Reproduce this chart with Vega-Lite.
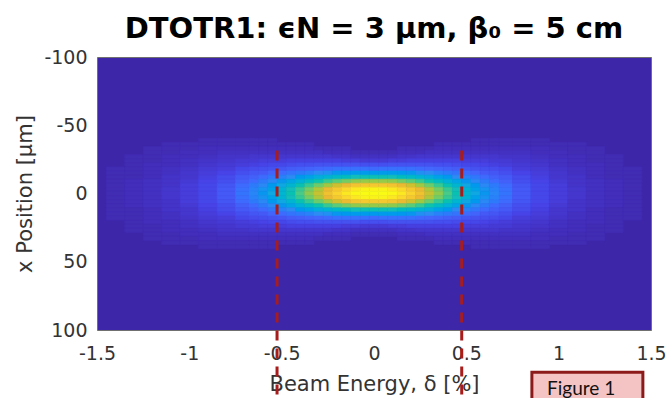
{
  "$schema": "https://vega.github.io/schema/vega-lite/v6.json",
  "width": 554,
  "height": 273,
  "autosize": {"type": "none"},
  "padding": {"left": 97, "top": 57, "right": 18, "bottom": 68},
  "background": "white",
  "title": {
    "text": "DTOTR1: ϵN = 3 μm, β₀ = 5 cm",
    "font": "DejaVu Sans",
    "fontSize": 29,
    "fontWeight": "bold",
    "color": "#000000",
    "anchor": "middle",
    "offset": 4
  },
  "layer": [
    {
      "data": {"values": [
        {"x":-1.4,"y":-18,"v":0.02},{"x":-1.4,"y":-15,"v":0.02},{"x":-1.4,"y":-12,"v":0.02},{"x":-1.4,"y":-9,"v":0.02},{"x":-1.4,"y":-6,"v":0.02},{"x":-1.4,"y":-3,"v":0.02},{"x":-1.4,"y":0,"v":0.02},{"x":-1.4,"y":3,"v":0.02},{"x":-1.4,"y":6,"v":0.02},{"x":-1.4,"y":9,"v":0.02},{"x":-1.4,"y":12,"v":0.02},{"x":-1.4,"y":15,"v":0.02},{"x":-1.4,"y":18,"v":0.02},
        {"x":-1.3,"y":-27,"v":0.02},{"x":-1.3,"y":-24,"v":0.02},{"x":-1.3,"y":-21,"v":0.02},{"x":-1.3,"y":-18,"v":0.02},{"x":-1.3,"y":-15,"v":0.02},{"x":-1.3,"y":-12,"v":0.02},{"x":-1.3,"y":-9,"v":0.03},{"x":-1.3,"y":-6,"v":0.03},{"x":-1.3,"y":-3,"v":0.03},{"x":-1.3,"y":0,"v":0.03},{"x":-1.3,"y":3,"v":0.03},{"x":-1.3,"y":6,"v":0.03},{"x":-1.3,"y":9,"v":0.03},{"x":-1.3,"y":12,"v":0.02},{"x":-1.3,"y":15,"v":0.02},{"x":-1.3,"y":18,"v":0.02},{"x":-1.3,"y":21,"v":0.02},{"x":-1.3,"y":24,"v":0.02},{"x":-1.3,"y":27,"v":0.02},
        {"x":-1.2,"y":-33,"v":0.02},{"x":-1.2,"y":-30,"v":0.02},{"x":-1.2,"y":-27,"v":0.02},{"x":-1.2,"y":-24,"v":0.02},{"x":-1.2,"y":-21,"v":0.03},{"x":-1.2,"y":-18,"v":0.03},{"x":-1.2,"y":-15,"v":0.03},{"x":-1.2,"y":-12,"v":0.03},{"x":-1.2,"y":-9,"v":0.04},{"x":-1.2,"y":-6,"v":0.04},{"x":-1.2,"y":-3,"v":0.04},{"x":-1.2,"y":0,"v":0.04},{"x":-1.2,"y":3,"v":0.04},{"x":-1.2,"y":6,"v":0.04},{"x":-1.2,"y":9,"v":0.04},{"x":-1.2,"y":12,"v":0.03},{"x":-1.2,"y":15,"v":0.03},{"x":-1.2,"y":18,"v":0.03},{"x":-1.2,"y":21,"v":0.03},{"x":-1.2,"y":24,"v":0.02},{"x":-1.2,"y":27,"v":0.02},{"x":-1.2,"y":30,"v":0.02},{"x":-1.2,"y":33,"v":0.02},
        {"x":-1.1,"y":-36,"v":0.02},{"x":-1.1,"y":-33,"v":0.02},{"x":-1.1,"y":-30,"v":0.02},{"x":-1.1,"y":-27,"v":0.03},{"x":-1.1,"y":-24,"v":0.03},{"x":-1.1,"y":-21,"v":0.03},{"x":-1.1,"y":-18,"v":0.04},{"x":-1.1,"y":-15,"v":0.04},{"x":-1.1,"y":-12,"v":0.05},{"x":-1.1,"y":-9,"v":0.05},{"x":-1.1,"y":-6,"v":0.05},{"x":-1.1,"y":-3,"v":0.06},{"x":-1.1,"y":0,"v":0.06},{"x":-1.1,"y":3,"v":0.06},{"x":-1.1,"y":6,"v":0.05},{"x":-1.1,"y":9,"v":0.05},{"x":-1.1,"y":12,"v":0.05},{"x":-1.1,"y":15,"v":0.04},{"x":-1.1,"y":18,"v":0.04},{"x":-1.1,"y":21,"v":0.03},{"x":-1.1,"y":24,"v":0.03},{"x":-1.1,"y":27,"v":0.03},{"x":-1.1,"y":30,"v":0.02},{"x":-1.1,"y":33,"v":0.02},{"x":-1.1,"y":36,"v":0.02},
        {"x":-1.0,"y":-36,"v":0.02},{"x":-1.0,"y":-33,"v":0.02},{"x":-1.0,"y":-30,"v":0.03},{"x":-1.0,"y":-27,"v":0.03},{"x":-1.0,"y":-24,"v":0.04},{"x":-1.0,"y":-21,"v":0.04},{"x":-1.0,"y":-18,"v":0.05},{"x":-1.0,"y":-15,"v":0.06},{"x":-1.0,"y":-12,"v":0.06},{"x":-1.0,"y":-9,"v":0.07},{"x":-1.0,"y":-6,"v":0.08},{"x":-1.0,"y":-3,"v":0.08},{"x":-1.0,"y":0,"v":0.08},{"x":-1.0,"y":3,"v":0.08},{"x":-1.0,"y":6,"v":0.08},{"x":-1.0,"y":9,"v":0.07},{"x":-1.0,"y":12,"v":0.06},{"x":-1.0,"y":15,"v":0.06},{"x":-1.0,"y":18,"v":0.05},{"x":-1.0,"y":21,"v":0.04},{"x":-1.0,"y":24,"v":0.04},{"x":-1.0,"y":27,"v":0.03},{"x":-1.0,"y":30,"v":0.03},{"x":-1.0,"y":33,"v":0.02},{"x":-1.0,"y":36,"v":0.02},
        {"x":-0.9,"y":-39,"v":0.02},{"x":-0.9,"y":-36,"v":0.02},{"x":-0.9,"y":-33,"v":0.03},{"x":-0.9,"y":-30,"v":0.03},{"x":-0.9,"y":-27,"v":0.04},{"x":-0.9,"y":-24,"v":0.05},{"x":-0.9,"y":-21,"v":0.06},{"x":-0.9,"y":-18,"v":0.07},{"x":-0.9,"y":-15,"v":0.08},{"x":-0.9,"y":-12,"v":0.09},{"x":-0.9,"y":-9,"v":0.10},{"x":-0.9,"y":-6,"v":0.11},{"x":-0.9,"y":-3,"v":0.11},{"x":-0.9,"y":0,"v":0.11},{"x":-0.9,"y":3,"v":0.11},{"x":-0.9,"y":6,"v":0.11},{"x":-0.9,"y":9,"v":0.10},{"x":-0.9,"y":12,"v":0.09},{"x":-0.9,"y":15,"v":0.08},{"x":-0.9,"y":18,"v":0.07},{"x":-0.9,"y":21,"v":0.06},{"x":-0.9,"y":24,"v":0.05},{"x":-0.9,"y":27,"v":0.04},{"x":-0.9,"y":30,"v":0.03},{"x":-0.9,"y":33,"v":0.03},{"x":-0.9,"y":36,"v":0.02},{"x":-0.9,"y":39,"v":0.02},
        {"x":-0.8,"y":-39,"v":0.02},{"x":-0.8,"y":-36,"v":0.02},{"x":-0.8,"y":-33,"v":0.03},{"x":-0.8,"y":-30,"v":0.04},{"x":-0.8,"y":-27,"v":0.05},{"x":-0.8,"y":-24,"v":0.06},{"x":-0.8,"y":-21,"v":0.07},{"x":-0.8,"y":-18,"v":0.08},{"x":-0.8,"y":-15,"v":0.10},{"x":-0.8,"y":-12,"v":0.12},{"x":-0.8,"y":-9,"v":0.13},{"x":-0.8,"y":-6,"v":0.15},{"x":-0.8,"y":-3,"v":0.16},{"x":-0.8,"y":0,"v":0.16},{"x":-0.8,"y":3,"v":0.16},{"x":-0.8,"y":6,"v":0.15},{"x":-0.8,"y":9,"v":0.13},{"x":-0.8,"y":12,"v":0.12},{"x":-0.8,"y":15,"v":0.10},{"x":-0.8,"y":18,"v":0.08},{"x":-0.8,"y":21,"v":0.07},{"x":-0.8,"y":24,"v":0.06},{"x":-0.8,"y":27,"v":0.05},{"x":-0.8,"y":30,"v":0.04},{"x":-0.8,"y":33,"v":0.03},{"x":-0.8,"y":36,"v":0.02},{"x":-0.8,"y":39,"v":0.02},
        {"x":-0.7,"y":-39,"v":0.02},{"x":-0.7,"y":-36,"v":0.02},{"x":-0.7,"y":-33,"v":0.03},{"x":-0.7,"y":-30,"v":0.04},{"x":-0.7,"y":-27,"v":0.05},{"x":-0.7,"y":-24,"v":0.07},{"x":-0.7,"y":-21,"v":0.08},{"x":-0.7,"y":-18,"v":0.11},{"x":-0.7,"y":-15,"v":0.13},{"x":-0.7,"y":-12,"v":0.16},{"x":-0.7,"y":-9,"v":0.18},{"x":-0.7,"y":-6,"v":0.21},{"x":-0.7,"y":-3,"v":0.22},{"x":-0.7,"y":0,"v":0.23},{"x":-0.7,"y":3,"v":0.22},{"x":-0.7,"y":6,"v":0.21},{"x":-0.7,"y":9,"v":0.18},{"x":-0.7,"y":12,"v":0.16},{"x":-0.7,"y":15,"v":0.13},{"x":-0.7,"y":18,"v":0.11},{"x":-0.7,"y":21,"v":0.08},{"x":-0.7,"y":24,"v":0.07},{"x":-0.7,"y":27,"v":0.05},{"x":-0.7,"y":30,"v":0.04},{"x":-0.7,"y":33,"v":0.03},{"x":-0.7,"y":36,"v":0.02},{"x":-0.7,"y":39,"v":0.02},
        {"x":0.7,"y":-39,"v":0.02},{"x":0.7,"y":-36,"v":0.02},{"x":0.7,"y":-33,"v":0.03},{"x":0.7,"y":-30,"v":0.04},{"x":0.7,"y":-27,"v":0.05},{"x":0.7,"y":-24,"v":0.07},{"x":0.7,"y":-21,"v":0.08},{"x":0.7,"y":-18,"v":0.11},{"x":0.7,"y":-15,"v":0.13},{"x":0.7,"y":-12,"v":0.16},{"x":0.7,"y":-9,"v":0.18},{"x":0.7,"y":-6,"v":0.21},{"x":0.7,"y":-3,"v":0.22},{"x":0.7,"y":0,"v":0.23},{"x":0.7,"y":3,"v":0.22},{"x":0.7,"y":6,"v":0.21},{"x":0.7,"y":9,"v":0.18},{"x":0.7,"y":12,"v":0.16},{"x":0.7,"y":15,"v":0.13},{"x":0.7,"y":18,"v":0.11},{"x":0.7,"y":21,"v":0.08},{"x":0.7,"y":24,"v":0.07},{"x":0.7,"y":27,"v":0.05},{"x":0.7,"y":30,"v":0.04},{"x":0.7,"y":33,"v":0.03},{"x":0.7,"y":36,"v":0.02},{"x":0.7,"y":39,"v":0.02},
        {"x":0.8,"y":-39,"v":0.02},{"x":0.8,"y":-36,"v":0.02},{"x":0.8,"y":-33,"v":0.03},{"x":0.8,"y":-30,"v":0.04},{"x":0.8,"y":-27,"v":0.05},{"x":0.8,"y":-24,"v":0.06},{"x":0.8,"y":-21,"v":0.07},{"x":0.8,"y":-18,"v":0.08},{"x":0.8,"y":-15,"v":0.10},{"x":0.8,"y":-12,"v":0.12},{"x":0.8,"y":-9,"v":0.13},{"x":0.8,"y":-6,"v":0.15},{"x":0.8,"y":-3,"v":0.16},{"x":0.8,"y":0,"v":0.16},{"x":0.8,"y":3,"v":0.16},{"x":0.8,"y":6,"v":0.15},{"x":0.8,"y":9,"v":0.13},{"x":0.8,"y":12,"v":0.12},{"x":0.8,"y":15,"v":0.10},{"x":0.8,"y":18,"v":0.08},{"x":0.8,"y":21,"v":0.07},{"x":0.8,"y":24,"v":0.06},{"x":0.8,"y":27,"v":0.05},{"x":0.8,"y":30,"v":0.04},{"x":0.8,"y":33,"v":0.03},{"x":0.8,"y":36,"v":0.02},{"x":0.8,"y":39,"v":0.02},
        {"x":0.9,"y":-39,"v":0.02},{"x":0.9,"y":-36,"v":0.02},{"x":0.9,"y":-33,"v":0.03},{"x":0.9,"y":-30,"v":0.03},{"x":0.9,"y":-27,"v":0.04},{"x":0.9,"y":-24,"v":0.05},{"x":0.9,"y":-21,"v":0.06},{"x":0.9,"y":-18,"v":0.07},{"x":0.9,"y":-15,"v":0.08},{"x":0.9,"y":-12,"v":0.09},{"x":0.9,"y":-9,"v":0.10},{"x":0.9,"y":-6,"v":0.11},{"x":0.9,"y":-3,"v":0.11},{"x":0.9,"y":0,"v":0.11},{"x":0.9,"y":3,"v":0.11},{"x":0.9,"y":6,"v":0.11},{"x":0.9,"y":9,"v":0.10},{"x":0.9,"y":12,"v":0.09},{"x":0.9,"y":15,"v":0.08},{"x":0.9,"y":18,"v":0.07},{"x":0.9,"y":21,"v":0.06},{"x":0.9,"y":24,"v":0.05},{"x":0.9,"y":27,"v":0.04},{"x":0.9,"y":30,"v":0.03},{"x":0.9,"y":33,"v":0.03},{"x":0.9,"y":36,"v":0.02},{"x":0.9,"y":39,"v":0.02},
        {"x":1.0,"y":-36,"v":0.02},{"x":1.0,"y":-33,"v":0.02},{"x":1.0,"y":-30,"v":0.03},{"x":1.0,"y":-27,"v":0.03},{"x":1.0,"y":-24,"v":0.04},{"x":1.0,"y":-21,"v":0.04},{"x":1.0,"y":-18,"v":0.05},{"x":1.0,"y":-15,"v":0.06},{"x":1.0,"y":-12,"v":0.06},{"x":1.0,"y":-9,"v":0.07},{"x":1.0,"y":-6,"v":0.08},{"x":1.0,"y":-3,"v":0.08},{"x":1.0,"y":0,"v":0.08},{"x":1.0,"y":3,"v":0.08},{"x":1.0,"y":6,"v":0.08},{"x":1.0,"y":9,"v":0.07},{"x":1.0,"y":12,"v":0.06},{"x":1.0,"y":15,"v":0.06},{"x":1.0,"y":18,"v":0.05},{"x":1.0,"y":21,"v":0.04},{"x":1.0,"y":24,"v":0.04},{"x":1.0,"y":27,"v":0.03},{"x":1.0,"y":30,"v":0.03},{"x":1.0,"y":33,"v":0.02},{"x":1.0,"y":36,"v":0.02},
        {"x":1.1,"y":-36,"v":0.02},{"x":1.1,"y":-33,"v":0.02},{"x":1.1,"y":-30,"v":0.02},{"x":1.1,"y":-27,"v":0.03},{"x":1.1,"y":-24,"v":0.03},{"x":1.1,"y":-21,"v":0.03},{"x":1.1,"y":-18,"v":0.04},{"x":1.1,"y":-15,"v":0.04},{"x":1.1,"y":-12,"v":0.05},{"x":1.1,"y":-9,"v":0.05},{"x":1.1,"y":-6,"v":0.05},{"x":1.1,"y":-3,"v":0.06},{"x":1.1,"y":0,"v":0.06},{"x":1.1,"y":3,"v":0.06},{"x":1.1,"y":6,"v":0.05},{"x":1.1,"y":9,"v":0.05},{"x":1.1,"y":12,"v":0.05},{"x":1.1,"y":15,"v":0.04},{"x":1.1,"y":18,"v":0.04},{"x":1.1,"y":21,"v":0.03},{"x":1.1,"y":24,"v":0.03},{"x":1.1,"y":27,"v":0.03},{"x":1.1,"y":30,"v":0.02},{"x":1.1,"y":33,"v":0.02},{"x":1.1,"y":36,"v":0.02},
        {"x":1.2,"y":-33,"v":0.02},{"x":1.2,"y":-30,"v":0.02},{"x":1.2,"y":-27,"v":0.02},{"x":1.2,"y":-24,"v":0.02},{"x":1.2,"y":-21,"v":0.03},{"x":1.2,"y":-18,"v":0.03},{"x":1.2,"y":-15,"v":0.03},{"x":1.2,"y":-12,"v":0.03},{"x":1.2,"y":-9,"v":0.04},{"x":1.2,"y":-6,"v":0.04},{"x":1.2,"y":-3,"v":0.04},{"x":1.2,"y":0,"v":0.04},{"x":1.2,"y":3,"v":0.04},{"x":1.2,"y":6,"v":0.04},{"x":1.2,"y":9,"v":0.04},{"x":1.2,"y":12,"v":0.03},{"x":1.2,"y":15,"v":0.03},{"x":1.2,"y":18,"v":0.03},{"x":1.2,"y":21,"v":0.03},{"x":1.2,"y":24,"v":0.02},{"x":1.2,"y":27,"v":0.02},{"x":1.2,"y":30,"v":0.02},{"x":1.2,"y":33,"v":0.02},
        {"x":1.3,"y":-27,"v":0.02},{"x":1.3,"y":-24,"v":0.02},{"x":1.3,"y":-21,"v":0.02},{"x":1.3,"y":-18,"v":0.02},{"x":1.3,"y":-15,"v":0.02},{"x":1.3,"y":-12,"v":0.02},{"x":1.3,"y":-9,"v":0.03},{"x":1.3,"y":-6,"v":0.03},{"x":1.3,"y":-3,"v":0.03},{"x":1.3,"y":0,"v":0.03},{"x":1.3,"y":3,"v":0.03},{"x":1.3,"y":6,"v":0.03},{"x":1.3,"y":9,"v":0.03},{"x":1.3,"y":12,"v":0.02},{"x":1.3,"y":15,"v":0.02},{"x":1.3,"y":18,"v":0.02},{"x":1.3,"y":21,"v":0.02},{"x":1.3,"y":24,"v":0.02},{"x":1.3,"y":27,"v":0.02},
        {"x":1.4,"y":-18,"v":0.02},{"x":1.4,"y":-15,"v":0.02},{"x":1.4,"y":-12,"v":0.02},{"x":1.4,"y":-9,"v":0.02},{"x":1.4,"y":-6,"v":0.02},{"x":1.4,"y":-3,"v":0.02},{"x":1.4,"y":0,"v":0.02},{"x":1.4,"y":3,"v":0.02},{"x":1.4,"y":6,"v":0.02},{"x":1.4,"y":9,"v":0.02},{"x":1.4,"y":12,"v":0.02},{"x":1.4,"y":15,"v":0.02},{"x":1.4,"y":18,"v":0.02}
      ]},
      "transform": [
        {"bin": {"step": 0.1, "extent": [-1.45, 1.45], "nice": false}, "field": "x", "as": ["x0", "x1"]},
        {"bin": {"step": 3, "extent": [-40.5, 40.5], "nice": false}, "field": "y", "as": ["y0", "y1"]}
      ],
      "mark": {"type": "rect", "strokeWidth": 0.6},
      "encoding": {
        "x": {
          "field": "x0", "type": "quantitative",
          "scale": {"domain": [-1.5, 1.5], "nice": false, "zero": false},
          "axis": {"values": [-1.5, -1, -0.5, 0, 0.5, 1, 1.5], "format": "~g", "title": "Beam Energy, δ [%]", "labelPadding": 14, "titlePadding": 10, "labelFlush": false, "labelOverlap": false}
        },
        "x2": {"field": "x1"},
        "y": {
          "field": "y0", "type": "quantitative",
          "scale": {"domain": [-100, 100], "reverse": true, "nice": false, "zero": false},
          "axis": {"values": [-100, -50, 0, 50, 100], "format": "d", "title": "x Position [μm]", "labelPadding": 10, "titlePadding": 8, "labelFlush": false, "labelOverlap": false}
        },
        "y2": {"field": "y1"},
        "color": {"field": "v", "type": "quantitative", "scale": {"domain": [0, 0.1, 0.2, 0.3, 0.4, 0.5, 0.6, 0.7, 0.8, 0.9, 1], "range": ["#3e26a8", "#4743e7", "#4367fd", "#2d8cf3", "#1caadf", "#12beb9", "#48cb86", "#9fc942", "#eaba31", "#fad42e", "#f9fb15"], "clamp": true}, "legend": null},
        "stroke": {"field": "v", "type": "quantitative", "scale": {"domain": [0, 0.1, 0.2, 0.3, 0.4, 0.5, 0.6, 0.7, 0.8, 0.9, 1], "range": ["#3e26a8", "#4743e7", "#4367fd", "#2d8cf3", "#1caadf", "#12beb9", "#48cb86", "#9fc942", "#eaba31", "#fad42e", "#f9fb15"], "clamp": true}, "legend": null}
      }
    },
    {
      "data": {"values": [
        {"x":-0.65,"y":-39,"v":0.02},{"x":-0.65,"y":-36,"v":0.02},{"x":-0.65,"y":-33,"v":0.03},{"x":-0.65,"y":-30,"v":0.04},{"x":-0.65,"y":-27,"v":0.06},{"x":-0.65,"y":-24,"v":0.07},{"x":-0.65,"y":-21,"v":0.09},{"x":-0.65,"y":-18,"v":0.12},{"x":-0.65,"y":-15,"v":0.15},{"x":-0.65,"y":-12,"v":0.18},{"x":-0.65,"y":-9,"v":0.21},{"x":-0.65,"y":-6,"v":0.25},{"x":-0.65,"y":-3,"v":0.27},{"x":-0.65,"y":0,"v":0.28},{"x":-0.65,"y":3,"v":0.27},{"x":-0.65,"y":6,"v":0.25},{"x":-0.65,"y":9,"v":0.21},{"x":-0.65,"y":12,"v":0.18},{"x":-0.65,"y":15,"v":0.15},{"x":-0.65,"y":18,"v":0.12},{"x":-0.65,"y":21,"v":0.09},{"x":-0.65,"y":24,"v":0.07},{"x":-0.65,"y":27,"v":0.06},{"x":-0.65,"y":30,"v":0.04},{"x":-0.65,"y":33,"v":0.03},{"x":-0.65,"y":36,"v":0.02},{"x":-0.65,"y":39,"v":0.02},
        {"x":-0.6,"y":-39,"v":0.02},{"x":-0.6,"y":-36,"v":0.02},{"x":-0.6,"y":-33,"v":0.03},{"x":-0.6,"y":-30,"v":0.04},{"x":-0.6,"y":-27,"v":0.06},{"x":-0.6,"y":-24,"v":0.08},{"x":-0.6,"y":-21,"v":0.10},{"x":-0.6,"y":-18,"v":0.13},{"x":-0.6,"y":-15,"v":0.16},{"x":-0.6,"y":-12,"v":0.21},{"x":-0.6,"y":-9,"v":0.25},{"x":-0.6,"y":-6,"v":0.29},{"x":-0.6,"y":-3,"v":0.32},{"x":-0.6,"y":0,"v":0.33},{"x":-0.6,"y":3,"v":0.32},{"x":-0.6,"y":6,"v":0.29},{"x":-0.6,"y":9,"v":0.25},{"x":-0.6,"y":12,"v":0.21},{"x":-0.6,"y":15,"v":0.16},{"x":-0.6,"y":18,"v":0.13},{"x":-0.6,"y":21,"v":0.10},{"x":-0.6,"y":24,"v":0.08},{"x":-0.6,"y":27,"v":0.06},{"x":-0.6,"y":30,"v":0.04},{"x":-0.6,"y":33,"v":0.03},{"x":-0.6,"y":36,"v":0.02},{"x":-0.6,"y":39,"v":0.02},
        {"x":-0.55,"y":-39,"v":0.02},{"x":-0.55,"y":-36,"v":0.02},{"x":-0.55,"y":-33,"v":0.03},{"x":-0.55,"y":-30,"v":0.04},{"x":-0.55,"y":-27,"v":0.06},{"x":-0.55,"y":-24,"v":0.08},{"x":-0.55,"y":-21,"v":0.11},{"x":-0.55,"y":-18,"v":0.14},{"x":-0.55,"y":-15,"v":0.19},{"x":-0.55,"y":-12,"v":0.24},{"x":-0.55,"y":-9,"v":0.29},{"x":-0.55,"y":-6,"v":0.34},{"x":-0.55,"y":-3,"v":0.37},{"x":-0.55,"y":0,"v":0.39},{"x":-0.55,"y":3,"v":0.37},{"x":-0.55,"y":6,"v":0.34},{"x":-0.55,"y":9,"v":0.29},{"x":-0.55,"y":12,"v":0.24},{"x":-0.55,"y":15,"v":0.19},{"x":-0.55,"y":18,"v":0.14},{"x":-0.55,"y":21,"v":0.11},{"x":-0.55,"y":24,"v":0.08},{"x":-0.55,"y":27,"v":0.06},{"x":-0.55,"y":30,"v":0.04},{"x":-0.55,"y":33,"v":0.03},{"x":-0.55,"y":36,"v":0.02},{"x":-0.55,"y":39,"v":0.02},
        {"x":-0.5,"y":-36,"v":0.02},{"x":-0.5,"y":-33,"v":0.03},{"x":-0.5,"y":-30,"v":0.04},{"x":-0.5,"y":-27,"v":0.06},{"x":-0.5,"y":-24,"v":0.08},{"x":-0.5,"y":-21,"v":0.11},{"x":-0.5,"y":-18,"v":0.15},{"x":-0.5,"y":-15,"v":0.21},{"x":-0.5,"y":-12,"v":0.27},{"x":-0.5,"y":-9,"v":0.33},{"x":-0.5,"y":-6,"v":0.39},{"x":-0.5,"y":-3,"v":0.44},{"x":-0.5,"y":0,"v":0.45},{"x":-0.5,"y":3,"v":0.44},{"x":-0.5,"y":6,"v":0.39},{"x":-0.5,"y":9,"v":0.33},{"x":-0.5,"y":12,"v":0.27},{"x":-0.5,"y":15,"v":0.21},{"x":-0.5,"y":18,"v":0.15},{"x":-0.5,"y":21,"v":0.11},{"x":-0.5,"y":24,"v":0.08},{"x":-0.5,"y":27,"v":0.06},{"x":-0.5,"y":30,"v":0.04},{"x":-0.5,"y":33,"v":0.03},{"x":-0.5,"y":36,"v":0.02},
        {"x":-0.45,"y":-36,"v":0.02},{"x":-0.45,"y":-33,"v":0.03},{"x":-0.45,"y":-30,"v":0.04},{"x":-0.45,"y":-27,"v":0.06},{"x":-0.45,"y":-24,"v":0.09},{"x":-0.45,"y":-21,"v":0.12},{"x":-0.45,"y":-18,"v":0.17},{"x":-0.45,"y":-15,"v":0.23},{"x":-0.45,"y":-12,"v":0.30},{"x":-0.45,"y":-9,"v":0.38},{"x":-0.45,"y":-6,"v":0.45},{"x":-0.45,"y":-3,"v":0.50},{"x":-0.45,"y":0,"v":0.52},{"x":-0.45,"y":3,"v":0.50},{"x":-0.45,"y":6,"v":0.45},{"x":-0.45,"y":9,"v":0.38},{"x":-0.45,"y":12,"v":0.30},{"x":-0.45,"y":15,"v":0.23},{"x":-0.45,"y":18,"v":0.17},{"x":-0.45,"y":21,"v":0.12},{"x":-0.45,"y":24,"v":0.09},{"x":-0.45,"y":27,"v":0.06},{"x":-0.45,"y":30,"v":0.04},{"x":-0.45,"y":33,"v":0.03},{"x":-0.45,"y":36,"v":0.02},
        {"x":-0.4,"y":-36,"v":0.02},{"x":-0.4,"y":-33,"v":0.03},{"x":-0.4,"y":-30,"v":0.04},{"x":-0.4,"y":-27,"v":0.06},{"x":-0.4,"y":-24,"v":0.09},{"x":-0.4,"y":-21,"v":0.13},{"x":-0.4,"y":-18,"v":0.18},{"x":-0.4,"y":-15,"v":0.25},{"x":-0.4,"y":-12,"v":0.34},{"x":-0.4,"y":-9,"v":0.43},{"x":-0.4,"y":-6,"v":0.52},{"x":-0.4,"y":-3,"v":0.58},{"x":-0.4,"y":0,"v":0.60},{"x":-0.4,"y":3,"v":0.58},{"x":-0.4,"y":6,"v":0.52},{"x":-0.4,"y":9,"v":0.43},{"x":-0.4,"y":12,"v":0.34},{"x":-0.4,"y":15,"v":0.25},{"x":-0.4,"y":18,"v":0.18},{"x":-0.4,"y":21,"v":0.13},{"x":-0.4,"y":24,"v":0.09},{"x":-0.4,"y":27,"v":0.06},{"x":-0.4,"y":30,"v":0.04},{"x":-0.4,"y":33,"v":0.03},{"x":-0.4,"y":36,"v":0.02},
        {"x":-0.35,"y":-36,"v":0.02},{"x":-0.35,"y":-33,"v":0.03},{"x":-0.35,"y":-30,"v":0.04},{"x":-0.35,"y":-27,"v":0.06},{"x":-0.35,"y":-24,"v":0.09},{"x":-0.35,"y":-21,"v":0.13},{"x":-0.35,"y":-18,"v":0.19},{"x":-0.35,"y":-15,"v":0.27},{"x":-0.35,"y":-12,"v":0.37},{"x":-0.35,"y":-9,"v":0.48},{"x":-0.35,"y":-6,"v":0.58},{"x":-0.35,"y":-3,"v":0.65},{"x":-0.35,"y":0,"v":0.68},{"x":-0.35,"y":3,"v":0.65},{"x":-0.35,"y":6,"v":0.58},{"x":-0.35,"y":9,"v":0.48},{"x":-0.35,"y":12,"v":0.37},{"x":-0.35,"y":15,"v":0.27},{"x":-0.35,"y":18,"v":0.19},{"x":-0.35,"y":21,"v":0.13},{"x":-0.35,"y":24,"v":0.09},{"x":-0.35,"y":27,"v":0.06},{"x":-0.35,"y":30,"v":0.04},{"x":-0.35,"y":33,"v":0.03},{"x":-0.35,"y":36,"v":0.02},
        {"x":-0.3,"y":-33,"v":0.02},{"x":-0.3,"y":-30,"v":0.04},{"x":-0.3,"y":-27,"v":0.06},{"x":-0.3,"y":-24,"v":0.09},{"x":-0.3,"y":-21,"v":0.14},{"x":-0.3,"y":-18,"v":0.20},{"x":-0.3,"y":-15,"v":0.30},{"x":-0.3,"y":-12,"v":0.41},{"x":-0.3,"y":-9,"v":0.53},{"x":-0.3,"y":-6,"v":0.64},{"x":-0.3,"y":-3,"v":0.72},{"x":-0.3,"y":0,"v":0.75},{"x":-0.3,"y":3,"v":0.72},{"x":-0.3,"y":6,"v":0.64},{"x":-0.3,"y":9,"v":0.53},{"x":-0.3,"y":12,"v":0.41},{"x":-0.3,"y":15,"v":0.30},{"x":-0.3,"y":18,"v":0.20},{"x":-0.3,"y":21,"v":0.14},{"x":-0.3,"y":24,"v":0.09},{"x":-0.3,"y":27,"v":0.06},{"x":-0.3,"y":30,"v":0.04},{"x":-0.3,"y":33,"v":0.02},
        {"x":-0.25,"y":-33,"v":0.02},{"x":-0.25,"y":-30,"v":0.03},{"x":-0.25,"y":-27,"v":0.06},{"x":-0.25,"y":-24,"v":0.09},{"x":-0.25,"y":-21,"v":0.14},{"x":-0.25,"y":-18,"v":0.21},{"x":-0.25,"y":-15,"v":0.31},{"x":-0.25,"y":-12,"v":0.44},{"x":-0.25,"y":-9,"v":0.58},{"x":-0.25,"y":-6,"v":0.70},{"x":-0.25,"y":-3,"v":0.80},{"x":-0.25,"y":0,"v":0.83},{"x":-0.25,"y":3,"v":0.80},{"x":-0.25,"y":6,"v":0.70},{"x":-0.25,"y":9,"v":0.58},{"x":-0.25,"y":12,"v":0.44},{"x":-0.25,"y":15,"v":0.31},{"x":-0.25,"y":18,"v":0.21},{"x":-0.25,"y":21,"v":0.14},{"x":-0.25,"y":24,"v":0.09},{"x":-0.25,"y":27,"v":0.06},{"x":-0.25,"y":30,"v":0.03},{"x":-0.25,"y":33,"v":0.02},
        {"x":-0.2,"y":-33,"v":0.02},{"x":-0.2,"y":-30,"v":0.03},{"x":-0.2,"y":-27,"v":0.05},{"x":-0.2,"y":-24,"v":0.09},{"x":-0.2,"y":-21,"v":0.14},{"x":-0.2,"y":-18,"v":0.22},{"x":-0.2,"y":-15,"v":0.33},{"x":-0.2,"y":-12,"v":0.47},{"x":-0.2,"y":-9,"v":0.62},{"x":-0.2,"y":-6,"v":0.76},{"x":-0.2,"y":-3,"v":0.86},{"x":-0.2,"y":0,"v":0.90},{"x":-0.2,"y":3,"v":0.86},{"x":-0.2,"y":6,"v":0.76},{"x":-0.2,"y":9,"v":0.62},{"x":-0.2,"y":12,"v":0.47},{"x":-0.2,"y":15,"v":0.33},{"x":-0.2,"y":18,"v":0.22},{"x":-0.2,"y":21,"v":0.14},{"x":-0.2,"y":24,"v":0.09},{"x":-0.2,"y":27,"v":0.05},{"x":-0.2,"y":30,"v":0.03},{"x":-0.2,"y":33,"v":0.02},
        {"x":-0.15,"y":-33,"v":0.02},{"x":-0.15,"y":-30,"v":0.03},{"x":-0.15,"y":-27,"v":0.05},{"x":-0.15,"y":-24,"v":0.08},{"x":-0.15,"y":-21,"v":0.14},{"x":-0.15,"y":-18,"v":0.22},{"x":-0.15,"y":-15,"v":0.34},{"x":-0.15,"y":-12,"v":0.49},{"x":-0.15,"y":-9,"v":0.65},{"x":-0.15,"y":-6,"v":0.80},{"x":-0.15,"y":-3,"v":0.91},{"x":-0.15,"y":0,"v":0.95},{"x":-0.15,"y":3,"v":0.91},{"x":-0.15,"y":6,"v":0.80},{"x":-0.15,"y":9,"v":0.65},{"x":-0.15,"y":12,"v":0.49},{"x":-0.15,"y":15,"v":0.34},{"x":-0.15,"y":18,"v":0.22},{"x":-0.15,"y":21,"v":0.14},{"x":-0.15,"y":24,"v":0.08},{"x":-0.15,"y":27,"v":0.05},{"x":-0.15,"y":30,"v":0.03},{"x":-0.15,"y":33,"v":0.02},
        {"x":-0.1,"y":-30,"v":0.02},{"x":-0.1,"y":-27,"v":0.04},{"x":-0.1,"y":-24,"v":0.08},{"x":-0.1,"y":-21,"v":0.14},{"x":-0.1,"y":-18,"v":0.22},{"x":-0.1,"y":-15,"v":0.35},{"x":-0.1,"y":-12,"v":0.50},{"x":-0.1,"y":-9,"v":0.68},{"x":-0.1,"y":-6,"v":0.84},{"x":-0.1,"y":-3,"v":0.95},{"x":-0.1,"y":0,"v":0.99},{"x":-0.1,"y":3,"v":0.95},{"x":-0.1,"y":6,"v":0.84},{"x":-0.1,"y":9,"v":0.68},{"x":-0.1,"y":12,"v":0.50},{"x":-0.1,"y":15,"v":0.35},{"x":-0.1,"y":18,"v":0.22},{"x":-0.1,"y":21,"v":0.14},{"x":-0.1,"y":24,"v":0.08},{"x":-0.1,"y":27,"v":0.04},{"x":-0.1,"y":30,"v":0.02},
        {"x":-0.05,"y":-30,"v":0.02},{"x":-0.05,"y":-27,"v":0.04},{"x":-0.05,"y":-24,"v":0.07},{"x":-0.05,"y":-21,"v":0.13},{"x":-0.05,"y":-18,"v":0.22},{"x":-0.05,"y":-15,"v":0.35},{"x":-0.05,"y":-12,"v":0.51},{"x":-0.05,"y":-9,"v":0.69},{"x":-0.05,"y":-6,"v":0.86},{"x":-0.05,"y":-3,"v":0.98},{"x":-0.05,"y":0,"v":1.02},{"x":-0.05,"y":3,"v":0.98},{"x":-0.05,"y":6,"v":0.86},{"x":-0.05,"y":9,"v":0.69},{"x":-0.05,"y":12,"v":0.51},{"x":-0.05,"y":15,"v":0.35},{"x":-0.05,"y":18,"v":0.22},{"x":-0.05,"y":21,"v":0.13},{"x":-0.05,"y":24,"v":0.07},{"x":-0.05,"y":27,"v":0.04},{"x":-0.05,"y":30,"v":0.02},
        {"x":0,"y":-30,"v":0.02},{"x":0,"y":-27,"v":0.04},{"x":0,"y":-24,"v":0.07},{"x":0,"y":-21,"v":0.13},{"x":0,"y":-18,"v":0.21},{"x":0,"y":-15,"v":0.34},{"x":0,"y":-12,"v":0.51},{"x":0,"y":-9,"v":0.69},{"x":0,"y":-6,"v":0.86},{"x":0,"y":-3,"v":0.98},{"x":0,"y":0,"v":1.03},{"x":0,"y":3,"v":0.98},{"x":0,"y":6,"v":0.86},{"x":0,"y":9,"v":0.69},{"x":0,"y":12,"v":0.51},{"x":0,"y":15,"v":0.34},{"x":0,"y":18,"v":0.21},{"x":0,"y":21,"v":0.13},{"x":0,"y":24,"v":0.07},{"x":0,"y":27,"v":0.04},{"x":0,"y":30,"v":0.02},
        {"x":0.05,"y":-30,"v":0.02},{"x":0.05,"y":-27,"v":0.04},{"x":0.05,"y":-24,"v":0.07},{"x":0.05,"y":-21,"v":0.13},{"x":0.05,"y":-18,"v":0.22},{"x":0.05,"y":-15,"v":0.35},{"x":0.05,"y":-12,"v":0.51},{"x":0.05,"y":-9,"v":0.69},{"x":0.05,"y":-6,"v":0.86},{"x":0.05,"y":-3,"v":0.98},{"x":0.05,"y":0,"v":1.02},{"x":0.05,"y":3,"v":0.98},{"x":0.05,"y":6,"v":0.86},{"x":0.05,"y":9,"v":0.69},{"x":0.05,"y":12,"v":0.51},{"x":0.05,"y":15,"v":0.35},{"x":0.05,"y":18,"v":0.22},{"x":0.05,"y":21,"v":0.13},{"x":0.05,"y":24,"v":0.07},{"x":0.05,"y":27,"v":0.04},{"x":0.05,"y":30,"v":0.02},
        {"x":0.1,"y":-30,"v":0.02},{"x":0.1,"y":-27,"v":0.04},{"x":0.1,"y":-24,"v":0.08},{"x":0.1,"y":-21,"v":0.14},{"x":0.1,"y":-18,"v":0.22},{"x":0.1,"y":-15,"v":0.35},{"x":0.1,"y":-12,"v":0.50},{"x":0.1,"y":-9,"v":0.68},{"x":0.1,"y":-6,"v":0.84},{"x":0.1,"y":-3,"v":0.95},{"x":0.1,"y":0,"v":0.99},{"x":0.1,"y":3,"v":0.95},{"x":0.1,"y":6,"v":0.84},{"x":0.1,"y":9,"v":0.68},{"x":0.1,"y":12,"v":0.50},{"x":0.1,"y":15,"v":0.35},{"x":0.1,"y":18,"v":0.22},{"x":0.1,"y":21,"v":0.14},{"x":0.1,"y":24,"v":0.08},{"x":0.1,"y":27,"v":0.04},{"x":0.1,"y":30,"v":0.02},
        {"x":0.15,"y":-33,"v":0.02},{"x":0.15,"y":-30,"v":0.03},{"x":0.15,"y":-27,"v":0.05},{"x":0.15,"y":-24,"v":0.08},{"x":0.15,"y":-21,"v":0.14},{"x":0.15,"y":-18,"v":0.22},{"x":0.15,"y":-15,"v":0.34},{"x":0.15,"y":-12,"v":0.49},{"x":0.15,"y":-9,"v":0.65},{"x":0.15,"y":-6,"v":0.80},{"x":0.15,"y":-3,"v":0.91},{"x":0.15,"y":0,"v":0.95},{"x":0.15,"y":3,"v":0.91},{"x":0.15,"y":6,"v":0.80},{"x":0.15,"y":9,"v":0.65},{"x":0.15,"y":12,"v":0.49},{"x":0.15,"y":15,"v":0.34},{"x":0.15,"y":18,"v":0.22},{"x":0.15,"y":21,"v":0.14},{"x":0.15,"y":24,"v":0.08},{"x":0.15,"y":27,"v":0.05},{"x":0.15,"y":30,"v":0.03},{"x":0.15,"y":33,"v":0.02},
        {"x":0.2,"y":-33,"v":0.02},{"x":0.2,"y":-30,"v":0.03},{"x":0.2,"y":-27,"v":0.05},{"x":0.2,"y":-24,"v":0.09},{"x":0.2,"y":-21,"v":0.14},{"x":0.2,"y":-18,"v":0.22},{"x":0.2,"y":-15,"v":0.33},{"x":0.2,"y":-12,"v":0.47},{"x":0.2,"y":-9,"v":0.62},{"x":0.2,"y":-6,"v":0.76},{"x":0.2,"y":-3,"v":0.86},{"x":0.2,"y":0,"v":0.90},{"x":0.2,"y":3,"v":0.86},{"x":0.2,"y":6,"v":0.76},{"x":0.2,"y":9,"v":0.62},{"x":0.2,"y":12,"v":0.47},{"x":0.2,"y":15,"v":0.33},{"x":0.2,"y":18,"v":0.22},{"x":0.2,"y":21,"v":0.14},{"x":0.2,"y":24,"v":0.09},{"x":0.2,"y":27,"v":0.05},{"x":0.2,"y":30,"v":0.03},{"x":0.2,"y":33,"v":0.02},
        {"x":0.25,"y":-33,"v":0.02},{"x":0.25,"y":-30,"v":0.03},{"x":0.25,"y":-27,"v":0.06},{"x":0.25,"y":-24,"v":0.09},{"x":0.25,"y":-21,"v":0.14},{"x":0.25,"y":-18,"v":0.21},{"x":0.25,"y":-15,"v":0.31},{"x":0.25,"y":-12,"v":0.44},{"x":0.25,"y":-9,"v":0.58},{"x":0.25,"y":-6,"v":0.70},{"x":0.25,"y":-3,"v":0.80},{"x":0.25,"y":0,"v":0.83},{"x":0.25,"y":3,"v":0.80},{"x":0.25,"y":6,"v":0.70},{"x":0.25,"y":9,"v":0.58},{"x":0.25,"y":12,"v":0.44},{"x":0.25,"y":15,"v":0.31},{"x":0.25,"y":18,"v":0.21},{"x":0.25,"y":21,"v":0.14},{"x":0.25,"y":24,"v":0.09},{"x":0.25,"y":27,"v":0.06},{"x":0.25,"y":30,"v":0.03},{"x":0.25,"y":33,"v":0.02},
        {"x":0.3,"y":-33,"v":0.02},{"x":0.3,"y":-30,"v":0.04},{"x":0.3,"y":-27,"v":0.06},{"x":0.3,"y":-24,"v":0.09},{"x":0.3,"y":-21,"v":0.14},{"x":0.3,"y":-18,"v":0.20},{"x":0.3,"y":-15,"v":0.30},{"x":0.3,"y":-12,"v":0.41},{"x":0.3,"y":-9,"v":0.53},{"x":0.3,"y":-6,"v":0.64},{"x":0.3,"y":-3,"v":0.72},{"x":0.3,"y":0,"v":0.75},{"x":0.3,"y":3,"v":0.72},{"x":0.3,"y":6,"v":0.64},{"x":0.3,"y":9,"v":0.53},{"x":0.3,"y":12,"v":0.41},{"x":0.3,"y":15,"v":0.30},{"x":0.3,"y":18,"v":0.20},{"x":0.3,"y":21,"v":0.14},{"x":0.3,"y":24,"v":0.09},{"x":0.3,"y":27,"v":0.06},{"x":0.3,"y":30,"v":0.04},{"x":0.3,"y":33,"v":0.02},
        {"x":0.35,"y":-36,"v":0.02},{"x":0.35,"y":-33,"v":0.03},{"x":0.35,"y":-30,"v":0.04},{"x":0.35,"y":-27,"v":0.06},{"x":0.35,"y":-24,"v":0.09},{"x":0.35,"y":-21,"v":0.13},{"x":0.35,"y":-18,"v":0.19},{"x":0.35,"y":-15,"v":0.27},{"x":0.35,"y":-12,"v":0.37},{"x":0.35,"y":-9,"v":0.48},{"x":0.35,"y":-6,"v":0.58},{"x":0.35,"y":-3,"v":0.65},{"x":0.35,"y":0,"v":0.68},{"x":0.35,"y":3,"v":0.65},{"x":0.35,"y":6,"v":0.58},{"x":0.35,"y":9,"v":0.48},{"x":0.35,"y":12,"v":0.37},{"x":0.35,"y":15,"v":0.27},{"x":0.35,"y":18,"v":0.19},{"x":0.35,"y":21,"v":0.13},{"x":0.35,"y":24,"v":0.09},{"x":0.35,"y":27,"v":0.06},{"x":0.35,"y":30,"v":0.04},{"x":0.35,"y":33,"v":0.03},{"x":0.35,"y":36,"v":0.02},
        {"x":0.4,"y":-36,"v":0.02},{"x":0.4,"y":-33,"v":0.03},{"x":0.4,"y":-30,"v":0.04},{"x":0.4,"y":-27,"v":0.06},{"x":0.4,"y":-24,"v":0.09},{"x":0.4,"y":-21,"v":0.13},{"x":0.4,"y":-18,"v":0.18},{"x":0.4,"y":-15,"v":0.25},{"x":0.4,"y":-12,"v":0.34},{"x":0.4,"y":-9,"v":0.43},{"x":0.4,"y":-6,"v":0.52},{"x":0.4,"y":-3,"v":0.58},{"x":0.4,"y":0,"v":0.60},{"x":0.4,"y":3,"v":0.58},{"x":0.4,"y":6,"v":0.52},{"x":0.4,"y":9,"v":0.43},{"x":0.4,"y":12,"v":0.34},{"x":0.4,"y":15,"v":0.25},{"x":0.4,"y":18,"v":0.18},{"x":0.4,"y":21,"v":0.13},{"x":0.4,"y":24,"v":0.09},{"x":0.4,"y":27,"v":0.06},{"x":0.4,"y":30,"v":0.04},{"x":0.4,"y":33,"v":0.03},{"x":0.4,"y":36,"v":0.02},
        {"x":0.45,"y":-36,"v":0.02},{"x":0.45,"y":-33,"v":0.03},{"x":0.45,"y":-30,"v":0.04},{"x":0.45,"y":-27,"v":0.06},{"x":0.45,"y":-24,"v":0.09},{"x":0.45,"y":-21,"v":0.12},{"x":0.45,"y":-18,"v":0.17},{"x":0.45,"y":-15,"v":0.23},{"x":0.45,"y":-12,"v":0.30},{"x":0.45,"y":-9,"v":0.38},{"x":0.45,"y":-6,"v":0.45},{"x":0.45,"y":-3,"v":0.50},{"x":0.45,"y":0,"v":0.52},{"x":0.45,"y":3,"v":0.50},{"x":0.45,"y":6,"v":0.45},{"x":0.45,"y":9,"v":0.38},{"x":0.45,"y":12,"v":0.30},{"x":0.45,"y":15,"v":0.23},{"x":0.45,"y":18,"v":0.17},{"x":0.45,"y":21,"v":0.12},{"x":0.45,"y":24,"v":0.09},{"x":0.45,"y":27,"v":0.06},{"x":0.45,"y":30,"v":0.04},{"x":0.45,"y":33,"v":0.03},{"x":0.45,"y":36,"v":0.02},
        {"x":0.5,"y":-36,"v":0.02},{"x":0.5,"y":-33,"v":0.03},{"x":0.5,"y":-30,"v":0.04},{"x":0.5,"y":-27,"v":0.06},{"x":0.5,"y":-24,"v":0.08},{"x":0.5,"y":-21,"v":0.11},{"x":0.5,"y":-18,"v":0.15},{"x":0.5,"y":-15,"v":0.21},{"x":0.5,"y":-12,"v":0.27},{"x":0.5,"y":-9,"v":0.33},{"x":0.5,"y":-6,"v":0.39},{"x":0.5,"y":-3,"v":0.44},{"x":0.5,"y":0,"v":0.45},{"x":0.5,"y":3,"v":0.44},{"x":0.5,"y":6,"v":0.39},{"x":0.5,"y":9,"v":0.33},{"x":0.5,"y":12,"v":0.27},{"x":0.5,"y":15,"v":0.21},{"x":0.5,"y":18,"v":0.15},{"x":0.5,"y":21,"v":0.11},{"x":0.5,"y":24,"v":0.08},{"x":0.5,"y":27,"v":0.06},{"x":0.5,"y":30,"v":0.04},{"x":0.5,"y":33,"v":0.03},{"x":0.5,"y":36,"v":0.02},
        {"x":0.55,"y":-39,"v":0.02},{"x":0.55,"y":-36,"v":0.02},{"x":0.55,"y":-33,"v":0.03},{"x":0.55,"y":-30,"v":0.04},{"x":0.55,"y":-27,"v":0.06},{"x":0.55,"y":-24,"v":0.08},{"x":0.55,"y":-21,"v":0.11},{"x":0.55,"y":-18,"v":0.14},{"x":0.55,"y":-15,"v":0.19},{"x":0.55,"y":-12,"v":0.24},{"x":0.55,"y":-9,"v":0.29},{"x":0.55,"y":-6,"v":0.34},{"x":0.55,"y":-3,"v":0.37},{"x":0.55,"y":0,"v":0.39},{"x":0.55,"y":3,"v":0.37},{"x":0.55,"y":6,"v":0.34},{"x":0.55,"y":9,"v":0.29},{"x":0.55,"y":12,"v":0.24},{"x":0.55,"y":15,"v":0.19},{"x":0.55,"y":18,"v":0.14},{"x":0.55,"y":21,"v":0.11},{"x":0.55,"y":24,"v":0.08},{"x":0.55,"y":27,"v":0.06},{"x":0.55,"y":30,"v":0.04},{"x":0.55,"y":33,"v":0.03},{"x":0.55,"y":36,"v":0.02},{"x":0.55,"y":39,"v":0.02},
        {"x":0.6,"y":-39,"v":0.02},{"x":0.6,"y":-36,"v":0.02},{"x":0.6,"y":-33,"v":0.03},{"x":0.6,"y":-30,"v":0.04},{"x":0.6,"y":-27,"v":0.06},{"x":0.6,"y":-24,"v":0.08},{"x":0.6,"y":-21,"v":0.10},{"x":0.6,"y":-18,"v":0.13},{"x":0.6,"y":-15,"v":0.16},{"x":0.6,"y":-12,"v":0.21},{"x":0.6,"y":-9,"v":0.25},{"x":0.6,"y":-6,"v":0.29},{"x":0.6,"y":-3,"v":0.32},{"x":0.6,"y":0,"v":0.33},{"x":0.6,"y":3,"v":0.32},{"x":0.6,"y":6,"v":0.29},{"x":0.6,"y":9,"v":0.25},{"x":0.6,"y":12,"v":0.21},{"x":0.6,"y":15,"v":0.16},{"x":0.6,"y":18,"v":0.13},{"x":0.6,"y":21,"v":0.10},{"x":0.6,"y":24,"v":0.08},{"x":0.6,"y":27,"v":0.06},{"x":0.6,"y":30,"v":0.04},{"x":0.6,"y":33,"v":0.03},{"x":0.6,"y":36,"v":0.02},{"x":0.6,"y":39,"v":0.02},
        {"x":0.65,"y":-39,"v":0.02},{"x":0.65,"y":-36,"v":0.02},{"x":0.65,"y":-33,"v":0.03},{"x":0.65,"y":-30,"v":0.04},{"x":0.65,"y":-27,"v":0.06},{"x":0.65,"y":-24,"v":0.07},{"x":0.65,"y":-21,"v":0.09},{"x":0.65,"y":-18,"v":0.12},{"x":0.65,"y":-15,"v":0.15},{"x":0.65,"y":-12,"v":0.18},{"x":0.65,"y":-9,"v":0.21},{"x":0.65,"y":-6,"v":0.25},{"x":0.65,"y":-3,"v":0.27},{"x":0.65,"y":0,"v":0.28},{"x":0.65,"y":3,"v":0.27},{"x":0.65,"y":6,"v":0.25},{"x":0.65,"y":9,"v":0.21},{"x":0.65,"y":12,"v":0.18},{"x":0.65,"y":15,"v":0.15},{"x":0.65,"y":18,"v":0.12},{"x":0.65,"y":21,"v":0.09},{"x":0.65,"y":24,"v":0.07},{"x":0.65,"y":27,"v":0.06},{"x":0.65,"y":30,"v":0.04},{"x":0.65,"y":33,"v":0.03},{"x":0.65,"y":36,"v":0.02},{"x":0.65,"y":39,"v":0.02}
      ]},
      "transform": [
        {"bin": {"step": 0.05, "extent": [-0.675, 0.675], "nice": false}, "field": "x", "as": ["x0", "x1"]},
        {"bin": {"step": 3, "extent": [-40.5, 40.5], "nice": false}, "field": "y", "as": ["y0", "y1"]}
      ],
      "mark": {"type": "rect", "strokeWidth": 0.6},
      "encoding": {
        "x": {
          "field": "x0", "type": "quantitative",
          "scale": {"domain": [-1.5, 1.5], "nice": false, "zero": false},
          "axis": {"values": [-1.5, -1, -0.5, 0, 0.5, 1, 1.5], "format": "~g", "title": "Beam Energy, δ [%]", "labelPadding": 14, "titlePadding": 10, "labelFlush": false, "labelOverlap": false}
        },
        "x2": {"field": "x1"},
        "y": {
          "field": "y0", "type": "quantitative",
          "scale": {"domain": [-100, 100], "reverse": true, "nice": false, "zero": false},
          "axis": {"values": [-100, -50, 0, 50, 100], "format": "d", "title": "x Position [μm]", "labelPadding": 10, "titlePadding": 8, "labelFlush": false, "labelOverlap": false}
        },
        "y2": {"field": "y1"},
        "color": {"field": "v", "type": "quantitative", "scale": {"domain": [0, 0.1, 0.2, 0.3, 0.4, 0.5, 0.6, 0.7, 0.8, 0.9, 1], "range": ["#3e26a8", "#4743e7", "#4367fd", "#2d8cf3", "#1caadf", "#12beb9", "#48cb86", "#9fc942", "#eaba31", "#fad42e", "#f9fb15"], "clamp": true}, "legend": null},
        "stroke": {"field": "v", "type": "quantitative", "scale": {"domain": [0, 0.1, 0.2, 0.3, 0.4, 0.5, 0.6, 0.7, 0.8, 0.9, 1], "range": ["#3e26a8", "#4743e7", "#4367fd", "#2d8cf3", "#1caadf", "#12beb9", "#48cb86", "#9fc942", "#eaba31", "#fad42e", "#f9fb15"], "clamp": true}, "legend": null}
      }
    },
    {
      "data": {"values": [{"d": -0.525}, {"d": 0.475}]},
      "mark": {"type": "rule", "color": "#a81c1c", "strokeWidth": 3, "strokeDash": [10, 8], "clip": false},
      "encoding": {
        "x": {"field": "d", "type": "quantitative"},
        "y": {"datum": -31.5},
        "y2": {"datum": 152}
      }
    },
    {
      "data": {"values": [{"label": "Figure 1"}]},
      "mark": {"type": "rect", "fill": "#f4c4c4", "stroke": "#8c1a1a", "strokeWidth": 3, "clip": false},
      "encoding": {
        "x": {"datum": 0.855},
        "x2": {"datum": 1.456},
        "y": {"datum": 131},
        "y2": {"datum": 165}
      }
    },
    {
      "data": {"values": [{"label": "Figure 1"}]},
      "mark": {"type": "text", "align": "left", "baseline": "alphabetic", "font": "Lato", "fontSize": 19, "color": "#111111", "clip": false},
      "encoding": {
        "x": {"datum": 0.937},
        "y": {"datum": 147.5},
        "text": {"field": "label"}
      }
    }
  ],
  "config": {
    "view": {"fill": "#3e26a8", "stroke": "#707070", "strokeWidth": 1},
    "locale": {"number": {"decimal": ".", "thousands": ",", "grouping": [3], "currency": ["$", ""], "minus": "-"}},
    "axis": {
      "labelFont": "DejaVu Sans",
      "labelFontSize": 19,
      "labelColor": "#333333",
      "titleFont": "DejaVu Sans",
      "titleFontSize": 21,
      "titleFontWeight": "normal",
      "titleColor": "#333333",
      "ticks": false,
      "domain": false,
      "grid": false
    }
  }
}
